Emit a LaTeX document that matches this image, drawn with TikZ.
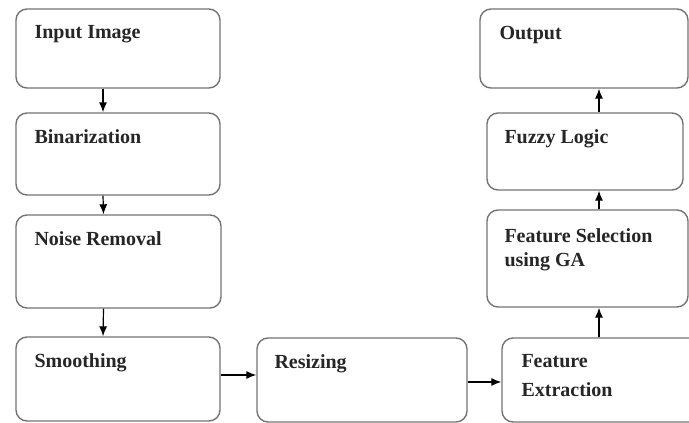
\documentclass[tikz,border=0pt]{standalone}
\usepackage{fontspec}
\setmainfont{Liberation Serif}
\usetikzlibrary{positioning}
\usetikzlibrary{arrows.meta}

\tikzset{
  box/.style={draw=black!55, line width=1.4pt, rounded corners=11pt},
  lbl/.style={inner sep=0pt, align=left, font=\fontsize{20}{24}\selectfont\bfseries, text=black!85},
  arr/.style={-{Latex[length=10pt,width=8pt]}, line width=1.2pt}
}

\begin{document}
\begin{tikzpicture}[x=1pt, y=-1pt]
\useasboundingbox (0,0) rectangle (689,423);
\clip (0,0) rectangle (689,423);

% left column
\node (in)     [box, minimum width=204, minimum height=79] at (118,48.5) {};
\node (bin)    [box, minimum width=204, minimum height=82] at (118,154)  {};
\node (noise)  [box, minimum width=205, minimum height=93] at (118.5,261.5) {};
\node (smooth) [box, minimum width=204, minimum height=84] at (118,379) {};

% bottom row
\node (resize) [box, minimum width=210, minimum height=84] at (362,380) {};
\node (fext)   [box, minimum width=200, minimum height=84] at (602,380) {};

% right column
\node (fsel)   [box, minimum width=201, minimum height=97] at (587.5,258.5) {};
\node (fuzzy)  [box, minimum width=196, minimum height=77] at (585,151.5) {};
\node (out)    [box, minimum width=208, minimum height=79] at (584,48.5) {};

\node (tin)     [lbl, below right=17pt and 19pt of in.north west]     {Input Image};
\node (tbin)    [lbl, below right=17pt and 19pt of bin.north west]    {Binarization};
\node (tnoise)  [lbl, below right=17pt and 19pt of noise.north west]  {Noise Removal};
\node (tsmooth) [lbl, below right=17pt and 19pt of smooth.north west] {Smoothing};
\node (tresize) [lbl, below right=17pt and 18pt of resize.north west] {Resizing};
\node (tfext)   [lbl, below right=17pt and 20pt of fext.north west]   {Feature\\[5pt]Extraction};
\node (tfsel)   [lbl, below right=19pt and 18pt of fsel.north west]   {Feature Selection\\using GA};
\node (tfuzzy)  [lbl, below right=17pt and 18pt of fuzzy.north west]  {Fuzzy Logic};
\node (tout)    [lbl, below right=18pt and 20pt of out.north west]    {Output};

\coordinate (upx) at (599,0);

\draw[arr] ([xshift=-15pt]in.south) -- ([xshift=-15pt]bin.north);
\draw[arr] ([xshift=-15pt]bin.south) -- ([xshift=-15pt]noise.north);
\draw[arr] ([xshift=-15pt]noise.south) -- ([xshift=-15pt]smooth.north);
\draw[arr] ([yshift=4pt]smooth.east) -- ([yshift=5pt]resize.west);
\draw[arr] ([yshift=-2pt]resize.east) -- ([yshift=-2pt]fext.west);
\draw[arr] (fext.north -| upx) -- (fsel.south -| upx);
\draw[arr] (fsel.north -| upx) -- (fuzzy.south -| upx);
\draw[arr] (fuzzy.north -| upx) -- (out.south -| upx);
\end{tikzpicture}
\end{document}
